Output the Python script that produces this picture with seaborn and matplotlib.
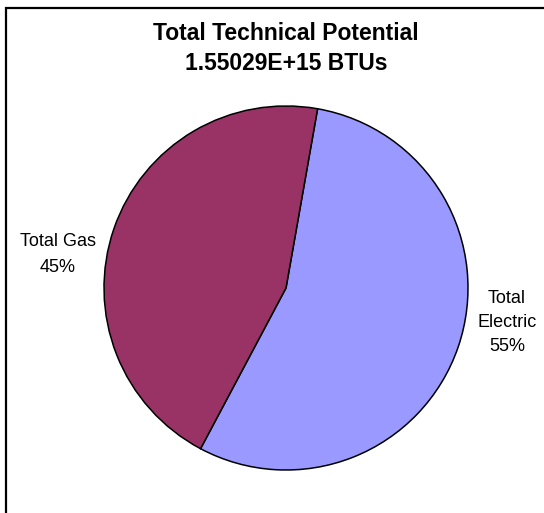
import matplotlib
matplotlib.use("Agg")
import matplotlib.pyplot as plt
from matplotlib.patches import Rectangle
import seaborn as sns

sns.set_theme(style="white")
plt.rcParams["font.family"] = ["Liberation Sans", "DejaVu Sans"]
plt.rcParams["text.color"] = "black"

categories = ["Total Electric", "Total Gas"]
shares = [55, 45]
colors = ["#9999FF", "#993366"]
title_lines = ["Total Technical Potential", "1.55029E+15 BTUs"]

W, H = 544, 513
cx, cy, R = 286, 288, 182  # pie centre and radius in pixels

fig = plt.figure(figsize=(W / 100, H / 100), dpi=100)
fig.patch.set_facecolor("white")
ax = fig.add_axes([0, 0, 1, 1])

ax.pie(shares, colors=colors, startangle=80, counterclock=False,
       wedgeprops=dict(edgecolor="black", linewidth=1.1))
ax.set_aspect("auto")
ax.set_xlim(-cx / R, (W - cx) / R)
ax.set_ylim(-(H - cy) / R, cy / R)
ax.axis("off")


def px(x, y):
    return (x - cx) / R, (cy - y) / R


# category labels: line texts and pixel baselines
label_lines = {
    "Total Electric": (507, [(lambda n, v: "Total", 303),
                             (lambda n, v: "Electric", 327),
                             (lambda n, v: f"{v}%", 351)]),
    "Total Gas": (58, [(lambda n, v: n, 246),
                       (lambda n, v: f"{v}%", 272)]),
}
for name, val in zip(categories, shares):
    xc, lines = label_lines[name]
    for fmt, yb in lines:
        x, y = px(xc, yb)
        ax.text(x, y, fmt(name, val), ha="center", va="baseline",
                fontsize=13, color="black")

# two-line title
for line, yb in zip(title_lines, [39.5, 70.5]):
    fig.text(286 / W, 1 - yb / H, line, ha="center", va="baseline",
             fontsize=16.5, fontweight="bold", color="black")

# chart-area frame
fig.patches.append(Rectangle((5.5 / W, -0.1), 1.2, 1.1 - 8.5 / H,
                             transform=fig.transFigure, fill=False,
                             edgecolor="black", linewidth=1.6))

fig.savefig("out.png", dpi=100, facecolor="white")
